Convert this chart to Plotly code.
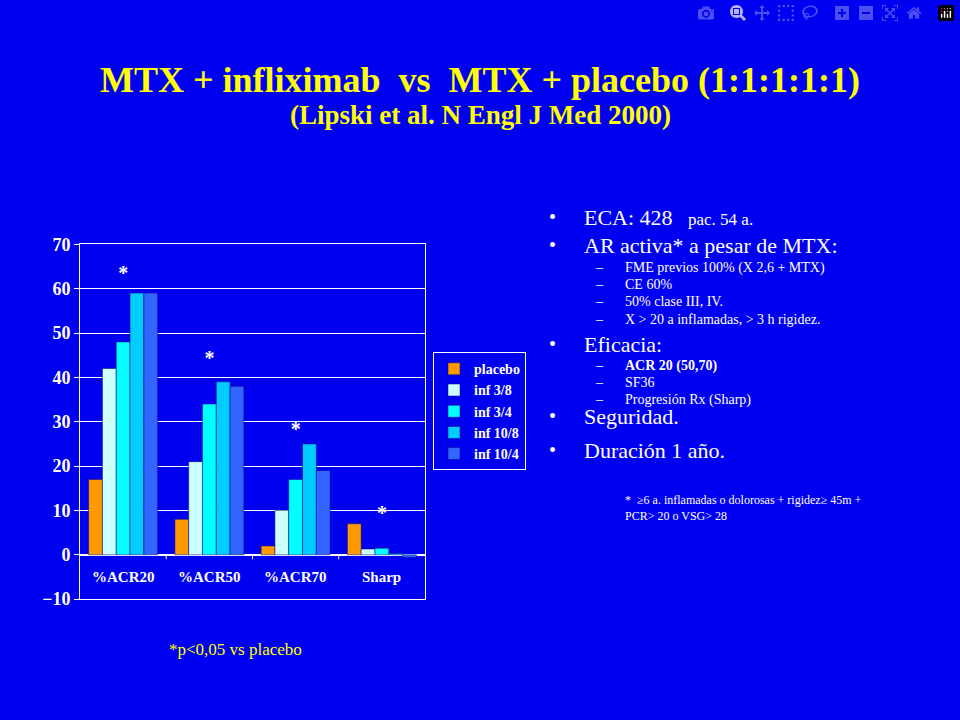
import plotly.graph_objects as go

categories = ["%ACR20", "%ACR50", "%ACR70", "Sharp"]
series_names = ["placebo", "inf 3/8", "inf 3/4", "inf 10/8", "inf 10/4"]
values = [
    [17, 8, 2, 7],
    [42, 21, 10, 1.3],
    [48, 34, 17, 1.5],
    [59, 39, 25, 0.3],
    [59, 38, 19, -0.6],
]
colors = ["#FF9900", "#CCFFFF", "#00FFFF", "#00CCFF", "#3366FF"]
star_y = [63, 44, 28, 9]
BG = "#0000F0"
serif = "Liberation Serif, Times New Roman, serif"

fig = go.Figure()
xs = list(range(len(categories)))
for name, vals, c in zip(series_names, values, colors):
    fig.add_bar(x=xs, y=vals, name="<b>%s</b>" % name,
                marker=dict(color=c, line=dict(color="#000080", width=0.5)))

fig.add_scatter(x=xs, y=star_y, mode="text", text=["<b>*</b>"] * 4, showlegend=False,
                textfont=dict(color="white", size=20, family=serif))
for i, cat in enumerate(categories):
    fig.add_annotation(x=i, y=-5, text="<b>%s</b>" % cat, showarrow=False,
                       font=dict(color="white", size=15, family=serif))
for i in range(len(categories) - 1):
    fig.add_shape(type="line", x0=i + 0.5, x1=i + 0.5, y0=0, y1=-1, xref="x", yref="y",
                  line=dict(color="white", width=1))

fig.update_layout(
    width=960, height=720, paper_bgcolor=BG, plot_bgcolor=BG,
    margin=dict(l=0, r=0, t=0, b=0),
    barmode="group", bargap=0.2, bargroupgap=0,
    font=dict(family=serif, color="white"),
    xaxis=dict(domain=[80 / 960, 425 / 960], range=[-0.5, 3.5], showticklabels=False,
               showgrid=False, zeroline=False, showline=True, mirror=True, linecolor="white"),
    yaxis=dict(domain=[1 - 606 / 720, 1 - 241 / 720], range=[-10, 70], dtick=10,
               gridcolor="white", gridwidth=1, zeroline=True, zerolinecolor="white",
               showline=True, mirror=True, linecolor="white",
               ticks="outside", tickcolor="white", ticklen=5,
               tickfont=dict(size=18, family=serif, color="white"),
               tickprefix="<b>", ticksuffix="</b>"),
    legend=dict(x=433 / 960, y=1 - 352 / 720, xanchor="left", yanchor="top",
                bgcolor=BG, bordercolor="white", borderwidth=1,
                font=dict(size=14, family=serif, color="white"), tracegroupgap=6,
                itemwidth=30),
)

def ann(x, y, text, size, color="white", xanchor="left", **kw):
    fig.add_annotation(x=x / 960, xref="paper", y=1 - y / 720, yref="paper", showarrow=False,
                       xanchor=xanchor, yanchor="middle", text=text,
                       font=dict(size=size, color=color, family=serif), **kw)

ann(480, 72, "<b>MTX + infliximab  vs  MTX + placebo (1:1:1:1:1)</b>", 36, "#FFFF00", "center")
ann(480, 108, "<b>(Lipski et al. N Engl J Med 2000)</b>", 27, "#FFFF00", "center")
ann(235, 658, "*p<0,05 vs placebo", 17, "#FFFF00", "center")

bullets = [("ECA: 428", 213), ("AR activa* a pesar de MTX:", 242), ("Eficacia:", 344),
           ("Seguridad.", 418), ("Duración 1 año.", 453)]
for t, y in bullets:
    ann(547, y, "•", 20)
    ann(582, y, t, 22)
ann(686, 215, "pac. 54 a.", 17)
subs = [("FME previos 100% (X 2,6 + MTX)", 265), ("CE 60%", 282), ("50% clase III, IV.", 300),
        ("X > 20 a inflamadas, > 3 h rigidez.", 318), ("<b>ACR 20 (50,70)</b>", 366),
        ("SF36", 383), ("Progresión Rx (Sharp)", 401)]
for t, y in subs:
    ann(593, y, "–", 14)
    ann(623, y, t, 14)
ann(623, 512, "*  ≥6 a. inflamadas o dolorosas + rigidez≥ 45m +<br>PCR> 20 o VSG> 28", 12,
    align="left")

fig.write_html("out.html", post_script="document.body.style.margin='0';")
